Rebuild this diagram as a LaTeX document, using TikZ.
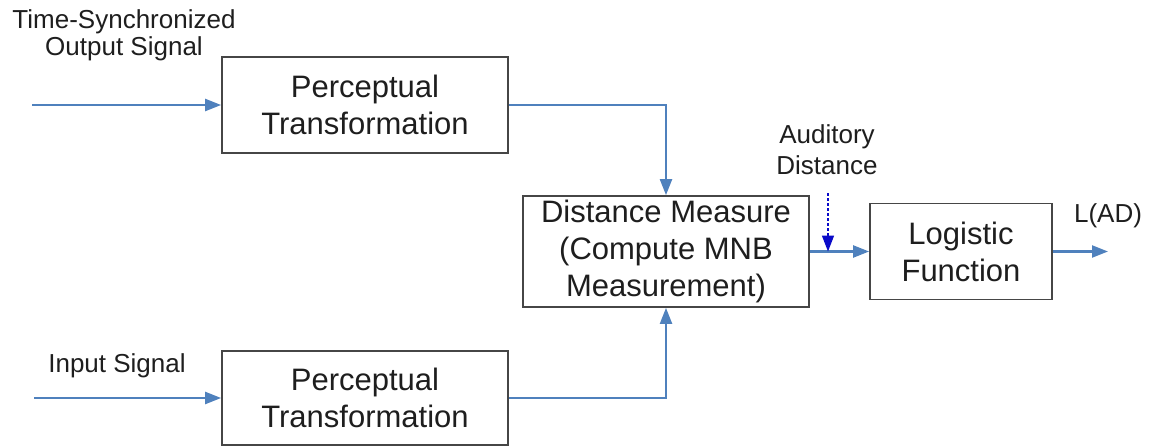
\documentclass[tikz,border=0pt]{standalone}
\usepackage{fontspec}
\setmainfont{Liberation Sans}
\usetikzlibrary{arrows.meta}
\definecolor{lineblue}{RGB}{79,129,189}
\definecolor{boxgray}{RGB}{70,70,70}
\definecolor{txt}{RGB}{30,30,30}
\definecolor{dotblue}{RGB}{10,10,200}
\begin{document}
\begin{tikzpicture}[x=1pt,y=-1pt,
  blk/.style={draw=boxgray,line width=1.8pt,align=center,inner sep=0pt,font=\fontsize{31}{37}\selectfont,text=txt},
  lbl/.style={align=center,inner sep=0pt,font=\fontsize{26}{30}\selectfont,text=txt},
  flow/.style={draw=lineblue,line width=2.2pt,-{Triangle[length=16pt,width=12pt]}},
  dotflow/.style={draw=dotblue,line width=1.5pt,dash pattern=on 3pt off 2pt,-{Triangle[length=16pt,width=12pt]}}]
\useasboundingbox (0,0) rectangle (1153,447);
\fill[white] (0,0) rectangle (1153,447);
\node[blk,minimum width=286pt,minimum height=96pt] (pt1) at (365,105) {Perceptual\\Transformation};
\node[blk,minimum width=286pt,minimum height=94pt] (pt2) at (365,398) {Perceptual\\Transformation};
\node[blk,minimum width=286pt,minimum height=111pt] (dm) at (666,251.5) {Distance Measure\\(Compute MNB\\Measurement)};
\node[blk,minimum width=182pt,minimum height=96pt] (lf) at (961,251.5) {Logistic\\Function};
\node[lbl,font=\fontsize{26}{27}\selectfont] (tso) at (124,35) {Time-Synchronized\\Output Signal};
\node[lbl,anchor=base] (ins) at (117,372) {Input Signal};
\node[lbl,font=\fontsize{26}{31}\selectfont] (adl) at (827,150) {Auditory\\Distance};
\node[lbl,anchor=base] (lad) at (1108,222) {L(AD)};
\coordinate (in1) at (32,105);
\coordinate (in2) at (34,398);
\coordinate (out) at (1108,251.5);
\coordinate (adtop) at (828,193);
\draw[flow] (in1) -- (pt1.west);
\draw[flow] (in2) -- (pt2.west);
\draw[flow] (pt1.east) -| (dm.north);
\draw[flow] (pt2.east) -| (dm.south);
\draw[flow] (dm.east) -- (lf.west);
\draw[flow] (lf.east) -- (out);
\draw[dotflow] (adtop) -- (adtop |- dm.east);
\end{tikzpicture}
\end{document}
